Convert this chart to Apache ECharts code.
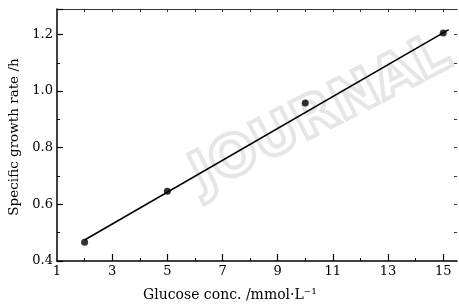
<!DOCTYPE html>
<html>
<head>
<meta charset="utf-8">
<script src="https://cdn.jsdelivr.net/npm/echarts@6/dist/echarts.min.js"></script>
<style>html,body{margin:0;padding:0;background:#fff}#c{width:459px;height:308px}</style>
</head>
<body>
<div id="c"></div>
<script>
// Measured points
var glucose = [2, 5, 10, 15];
var growthRate = [0.466, 0.646, 0.958, 1.205];
// Fitted line endpoints
var fitX = [2, 15.2];
var fitY = [0.474, 1.217];
// Tick labels
var xLabelValues = [1, 3, 5, 7, 9, 11, 13, 15];
var xMajorTicks = [3, 5, 7, 9, 11, 13, 15];
var xMinorTicks = [2, 4, 6, 8, 10, 12, 14];
var xTopTicks = [2, 3, 4, 5, 6, 7, 8, 9, 10, 11, 12, 13, 14, 15];
var xTitle = 'Glucose conc. /mmol\u00b7L\u207b\u00b9';
var yTitle = 'Specific growth rate /h';
var watermark = 'JOURNAL';

var font = '"DejaVu Serif", "Liberation Serif", serif';
var chart = echarts.init(document.getElementById('c'));
var pts = glucose.map(function (x, i) { return [x, growthRate[i]]; });
var fit = fitX.map(function (x, i) { return [x, fitY[i]]; });

chart.setOption({
  animation: false,
  backgroundColor: '#fff',
  grid: { left: 57, right: 2, top: 9, bottom: 47, containLabel: false },
  xAxis: [
    {
      type: 'value', min: 1, max: 15.5, position: 'bottom',
      axisLine: { show: true, lineStyle: { color: '#000', width: 1.5 } },
      axisTick: { show: true, inside: true, length: 7, customValues: xMajorTicks, lineStyle: { color: '#000', width: 1.2 } },
      axisLabel: { show: true, customValues: xLabelValues, margin: 4, color: '#000', fontFamily: font, fontSize: 13 },
      splitLine: { show: false }
    },
    {
      type: 'value', min: 1, max: 15.5, position: 'bottom',
      axisLine: { show: false },
      axisTick: { show: true, inside: true, length: 3, customValues: xMinorTicks, lineStyle: { color: '#000', width: 1 } },
      axisLabel: { show: false },
      splitLine: { show: false }
    },
    {
      type: 'value', min: 1, max: 15.5, position: 'top',
      axisLine: { show: true, lineStyle: { color: '#333', width: 1.2 } },
      axisTick: { show: true, inside: true, length: 3, customValues: xTopTicks, lineStyle: { color: '#333', width: 1 } },
      axisLabel: { show: false },
      splitLine: { show: false }
    }
  ],
  yAxis: [
    {
      type: 'value', min: 0.4, max: 1.29, interval: 0.2, position: 'left',
      axisLine: { show: true, lineStyle: { color: '#000', width: 1.5 } },
      axisTick: { show: true, inside: true, length: 6, lineStyle: { color: '#000', width: 1.2 } },
      minorTick: { show: true, splitNumber: 2, length: 3, lineStyle: { color: '#000', width: 1 } },
      axisLabel: { show: true, margin: 4, color: '#000', fontFamily: font, fontSize: 13,
        showMaxLabel: false,
        formatter: function (v) { return Math.abs(v - 1.29) < 0.001 ? '' : v.toFixed(1); } },
      splitLine: { show: false }, minorSplitLine: { show: false }
    },
    {
      type: 'value', min: 0.4, max: 1.29, interval: 0.2, position: 'right',
      axisLine: { show: false },
      axisTick: { show: true, inside: true, length: 3, lineStyle: { color: '#333', width: 1 } },
      minorTick: { show: true, splitNumber: 2, length: 3, lineStyle: { color: '#333', width: 1 } },
      axisLabel: { show: false },
      splitLine: { show: false }
    }
  ],
  graphic: [
    {
      type: 'text', left: 180, top: 24, z: 0, rotation: 27 * Math.PI / 180,
      style: { text: watermark, fill: 'rgba(255,255,255,0)', stroke: '#e6e6e6', lineWidth: 4,
        font: 'bold 56px "DejaVu Sans", sans-serif' },
      silent: true
    },
    {
      type: 'text', left: 143, top: 288,
      style: { text: xTitle, fill: '#000', font: '14px ' + font }
    },
    {
      type: 'text', x: 14, y: 137, rotation: Math.PI / 2,
      style: { text: yTitle, fill: '#000', font: '13.5px ' + font, align: 'center', verticalAlign: 'middle' }
    }
  ],
  series: [
    {
      type: 'line', data: fit, symbol: 'none', z: 3,
      lineStyle: { color: '#000', width: 1.6 }
    },
    {
      type: 'scatter', data: pts, symbol: 'circle', symbolSize: 7, z: 4,
      itemStyle: { color: '#000' }
    }
  ]
});
</script>
</body>
</html>
